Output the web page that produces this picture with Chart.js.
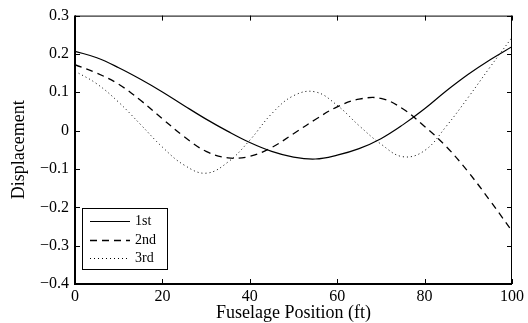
<!DOCTYPE html>
<html><head><meta charset="utf-8">
<script src="https://cdn.jsdelivr.net/npm/chart.js@4.4.1/dist/chart.umd.min.js"></script>
<style>html,body{margin:0;padding:0;background:#fff;overflow:hidden}</style>
</head><body>
<canvas id="c" width="528" height="323"></canvas>
<script>
const positions = [0,5,10,15,20,25,30,35,40,45,50,55,60,65,70,75,80,85,90,95,100];
const mode1 = [0.207,0.190,0.164,0.134,0.101,0.065,0.030,-0.002,-0.031,-0.054,-0.069,-0.074,-0.064,-0.047,-0.021,0.015,0.057,0.104,0.147,0.185,0.219];
const mode2 = [0.172,0.150,0.121,0.079,0.031,-0.016,-0.054,-0.071,-0.067,-0.044,-0.008,0.029,0.062,0.082,0.084,0.057,0.011,-0.042,-0.108,-0.183,-0.262];
const mode3 = [0.155,0.122,0.074,0.016,-0.043,-0.090,-0.111,-0.082,-0.025,0.044,0.091,0.101,0.066,0.013,-0.035,-0.068,-0.052,0.012,0.087,0.166,0.243];
const seriesNames = ['1st','2nd','3rd'];
const xTicks = [0,20,40,60,80,100];
const xTickLabels = ['0','20','40','60','80','100'];
const yTicks = [-0.4,-0.3,-0.2,-0.1,0,0.1,0.2,0.3];
const yTickLabels = ['\u22120.4','\u22120.3','\u22120.2','\u22120.1','0','0.1','0.2','0.3'];
const xTitle = 'Fuselage Position (ft)';
const yTitle = 'Displacement';

const FONT = "'Liberation Serif','Times New Roman',serif";

function pts(ys){ return positions.map((x,i)=>({x:x, y:ys[i]})); }
function lookup(vals, labels, v){ const i = vals.findIndex(t=>Math.abs(t-v)<1e-9); return i>=0 ? labels[i] : ''; }

const frame = {
  id:'frame',
  afterDraw(chart){
    const {ctx, chartArea:a, scales:{x,y}} = chart;
    ctx.save();
    ctx.strokeStyle='#000';
    ctx.setLineDash([]);
    const L=5;
    ctx.lineWidth=1;
    ctx.beginPath();
    xTicks.forEach(v=>{const p=Math.round(x.getPixelForValue(v))+0.5; ctx.moveTo(p,a.bottom); ctx.lineTo(p,a.bottom-L); ctx.moveTo(p,a.top); ctx.lineTo(p,a.top+L);});
    yTicks.forEach(v=>{const p=Math.round(y.getPixelForValue(v))+0.5; ctx.moveTo(a.left,p); ctx.lineTo(a.left+L,p); ctx.moveTo(a.right,p); ctx.lineTo(a.right-L,p);});
    ctx.stroke();
    ctx.beginPath();
    ctx.moveTo(a.left, a.top+0.5); ctx.lineTo(a.right, a.top+0.5);
    ctx.moveTo(a.right-0.5, a.top); ctx.lineTo(a.right-0.5, a.bottom);
    ctx.stroke();
    ctx.lineWidth=2;
    ctx.beginPath(); ctx.moveTo(a.left, a.top); ctx.lineTo(a.left, a.bottom); ctx.lineTo(a.right, a.bottom); ctx.stroke();
    // legend
    const bx = a.left+7, by = a.bottom-76, bw = 85, bh = 61;
    ctx.fillStyle='#fff';
    ctx.fillRect(bx,by,bw,bh);
    ctx.lineWidth=1;
    ctx.strokeRect(bx+0.5,by+0.5,bw,bh);
    ctx.font = "14px " + FONT;
    ctx.textBaseline='middle';
    ctx.textAlign='left';
    chart.data.datasets.forEach((ds,i)=>{
      const ry = Math.round(by + 13 + i*18.7) + 0.5;
      ctx.setLineDash(ds.borderDash || []);
      ctx.lineWidth = ds.borderWidth;
      ctx.strokeStyle = ds.borderColor;
      ctx.beginPath(); ctx.moveTo(bx+8, ry); ctx.lineTo(bx+48, ry); ctx.stroke();
      ctx.setLineDash([]);
      ctx.fillStyle='#000';
      ctx.fillText(ds.label, bx+53, ry);
    });
    ctx.restore();
  }
};

new Chart(document.getElementById('c'), {
  type:'line',
  data:{
    datasets:[
      {label:seriesNames[0], data:pts(mode1), borderColor:'#000', borderWidth:1.2, pointRadius:0, tension:0.4, fill:false},
      {label:seriesNames[1], data:pts(mode2), borderColor:'#000', borderWidth:1.3, borderDash:[7,5], pointRadius:0, tension:0.4, fill:false},
      {label:seriesNames[2], data:pts(mode3), borderColor:'#000', borderWidth:1, borderDash:[1,3], pointRadius:0, tension:0.4, fill:false}
    ]
  },
  options:{
    responsive:false,
    animation:false,
    layout:{padding:{left:0,right:16,top:15,bottom:0}},
    plugins:{legend:{display:false}, tooltip:{enabled:false}},
    scales:{
      x:{
        type:'linear', min:0, max:100,
        afterBuildTicks: s => { s.ticks = xTicks.map(v=>({value:v})); },
        afterFit: s => { s.height = 39; },
        ticks:{callback:v=>lookup(xTicks,xTickLabels,v), font:{family:FONT,size:16}, color:'#000', padding:3, maxRotation:0, autoSkip:false},
        grid:{display:false, drawTicks:false},
        border:{display:false},
        title:{display:true, text:xTitle, color:'#000', font:{family:FONT,size:18,lineHeight:1}, padding:{top:0,bottom:1}}
      },
      y:{
        type:'linear', min:-0.4, max:0.3,
        afterBuildTicks: s => { s.ticks = yTicks.map(v=>({value:v})); },
        afterFit: s => { s.width = 75; },
        ticks:{callback:v=>lookup(yTicks,yTickLabels,v), font:{family:FONT,size:16}, color:'#000', padding:6, autoSkip:false},
        grid:{display:false, drawTicks:false},
        border:{display:false},
        title:{display:true, text:yTitle, color:'#000', font:{family:FONT,size:18,lineHeight:1}, padding:{top:10,bottom:0}}
      }
    }
  },
  plugins:[frame]
});
</script>
</body></html>
